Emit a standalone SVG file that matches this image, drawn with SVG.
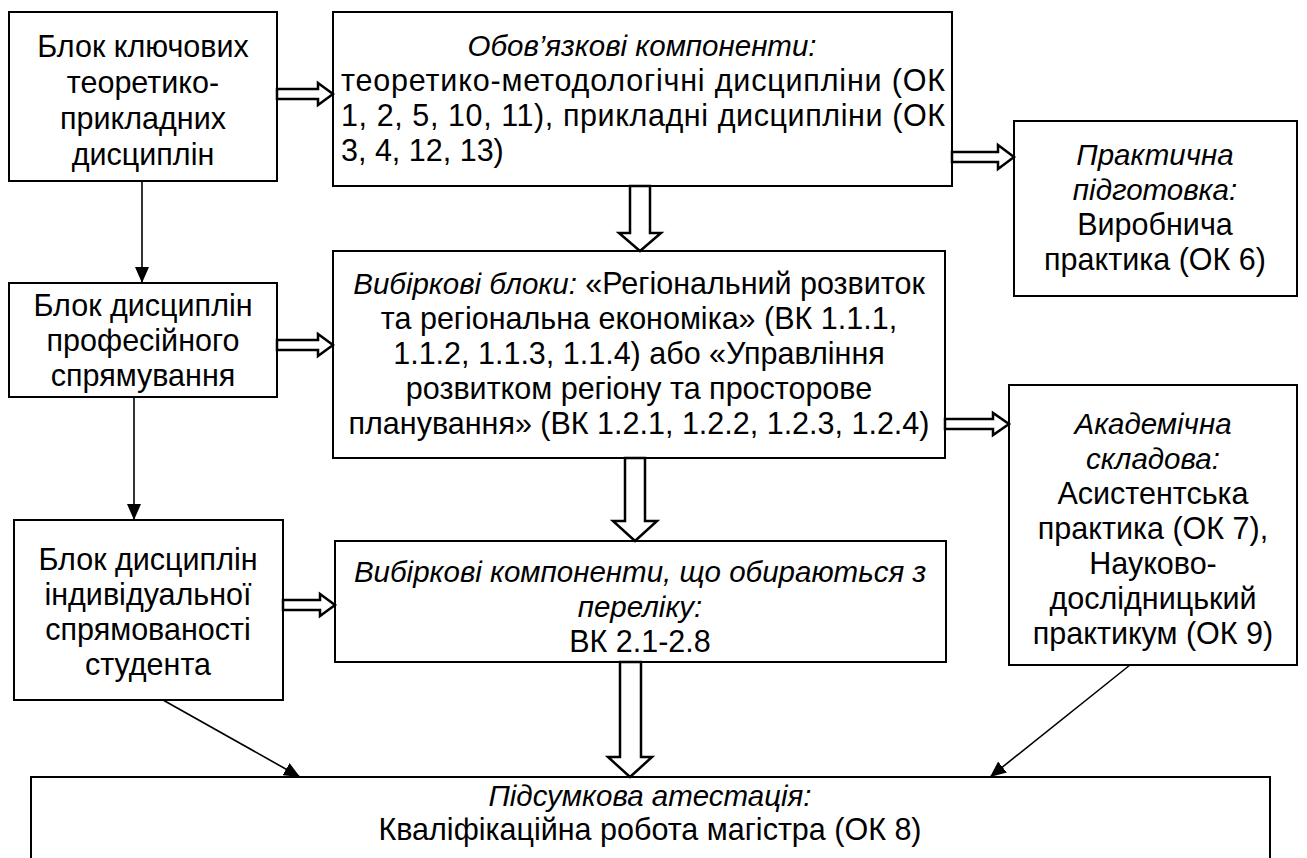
<svg xmlns="http://www.w3.org/2000/svg" width="1307" height="858" viewBox="0 0 1307 858">
<style>
.box{fill:#fff;stroke:#000;stroke-width:2}
.t{font-family:'Liberation Sans',Arial,sans-serif;font-size:30.5px;fill:#000;text-anchor:middle}
.l{text-anchor:start}
.i{font-style:italic;font-size:29.5px}
.ha{fill:#fff;stroke:#000;stroke-width:2.5;stroke-linejoin:miter}
.ln{stroke:#000;stroke-width:1.6;fill:none}
</style>
<defs>
<marker id="ahb" viewBox="0 0 16 14" refX="16" refY="7" markerWidth="16" markerHeight="14" markerUnits="userSpaceOnUse" orient="auto">
<path d="M0,0 L16,7 L0,14 z" fill="#000"/>
</marker>
</defs>
<rect width="1307" height="858" fill="#fff"/>

<g id="n1">
<rect class="box" x="9" y="12" width="268" height="169"/>
<text class="t" x="143"><tspan x="143" y="57">Блок ключових</tspan><tspan x="143" y="93">теоретико-</tspan><tspan x="143" y="129">прикладних</tspan><tspan x="143" y="165">дисциплін</tspan></text>
</g>

<g id="n2">
<rect class="box" x="333" y="12" width="619" height="174"/>
<text class="t i" x="642" y="56">Обов’язкові компоненти:</text>
<text class="t l" x="341" y="91" textLength="604" lengthAdjust="spacing">теоретико-методологічні дисципліни (ОК</text>
<text class="t l" x="341" y="126" textLength="604" lengthAdjust="spacing">1, 2, 5, 10, 11), прикладні дисципліни (ОК</text>
<text class="t l" x="341" y="161">3, 4, 12, 13)</text>
</g>

<g id="n3">
<rect class="box" x="1014" y="121" width="283" height="175"/>
<text class="t" x="1155"><tspan class="i" x="1155" y="165">Практична</tspan><tspan class="i" x="1155" y="200">підготовка:</tspan><tspan x="1155" y="235">Виробнича</tspan><tspan x="1155" y="270">практика (ОК 6)</tspan></text>
</g>

<g id="n4">
<rect class="box" x="9" y="283" width="268" height="114"/>
<text class="t" x="143"><tspan x="143" y="316">Блок дисциплін</tspan><tspan x="143" y="351">професійного</tspan><tspan x="143" y="386">спрямування</tspan></text>
</g>

<g id="n5">
<rect class="box" x="333" y="251" width="612" height="207"/>
<text class="t" x="639"><tspan x="639" y="294"><tspan class="i">Вибіркові блоки:</tspan> «Регіональний розвиток</tspan><tspan x="639" y="329">та регіональна економіка» (ВК 1.1.1,</tspan><tspan x="639" y="364">1.1.2, 1.1.3, 1.1.4) або «Управління</tspan><tspan x="639" y="399">розвитком регіону та просторове</tspan><tspan x="639" y="434">планування» (ВК 1.2.1, 1.2.2, 1.2.3, 1.2.4)</tspan></text>
</g>

<g id="n6">
<rect class="box" x="1009" y="385" width="288" height="280"/>
<text class="t" x="1153"><tspan class="i" x="1153" y="434">Академічна</tspan><tspan class="i" x="1153" y="469">складова:</tspan><tspan x="1153" y="504">Асистентська</tspan><tspan x="1153" y="539">практика (ОК 7),</tspan><tspan x="1153" y="574">Науково-</tspan><tspan x="1153" y="609">дослідницький</tspan><tspan x="1153" y="644">практикум (ОК 9)</tspan></text>
</g>

<g id="n7">
<rect class="box" x="14" y="520" width="269" height="180"/>
<text class="t" x="148"><tspan x="148" y="570">Блок дисциплін</tspan><tspan x="148" y="605">індивідуальної</tspan><tspan x="148" y="640">спрямованості</tspan><tspan x="148" y="675">студента</tspan></text>
</g>

<g id="n8">
<rect class="box" x="335" y="541" width="611" height="121"/>
<text class="t" x="640"><tspan class="i" x="640" y="582">Вибіркові компоненти, що обираються з</tspan><tspan class="i" x="640" y="617">переліку:</tspan><tspan x="640" y="652">ВК 2.1-2.8</tspan></text>
</g>

<g id="n9">
<rect class="box" x="31" y="777" width="1239" height="100"/>
<text class="t" x="650"><tspan class="i" x="650" y="806">Підсумкова атестація:</tspan><tspan x="650" y="840">Кваліфікаційна робота магістра (ОК 8)</tspan></text>
</g>

<g id="connectors">
<polygon class="ha" points="277,89 318,89 318,83 333,94 318,105 318,99 277,99"/>
<polygon class="ha" points="952,152 998,152 998,145 1014,157 998,169 998,162 952,162"/>
<polygon class="ha" points="277,340 318,340 318,334 333,345 318,356 318,350 277,350"/>
<polygon class="ha" points="945,419 993,419 993,413 1009,424 993,435 993,429 945,429"/>
<polygon class="ha" points="283,600 320,600 320,594 335,605 320,616 320,610 283,610"/>
<polygon class="ha" points="630,186 650,186 650,233 661,233 640,251 619,233 630,233"/>
<polygon class="ha" points="625,458 645,458 645,521 657,521 635,541 613,521 625,521"/>
<polygon class="ha" points="620,662 641,662 641,757 652,757 630,777 608,757 620,757"/>
<line class="ln" x1="142" y1="181" x2="142" y2="283" marker-end="url(#ahb)"/>
<line class="ln" x1="134" y1="397" x2="134" y2="520" marker-end="url(#ahb)"/>
<line class="ln" x1="163" y1="700" x2="300" y2="777" marker-end="url(#ahb)"/>
<line class="ln" x1="1130" y1="665" x2="990" y2="777" marker-end="url(#ahb)"/>
</g>
</svg>
